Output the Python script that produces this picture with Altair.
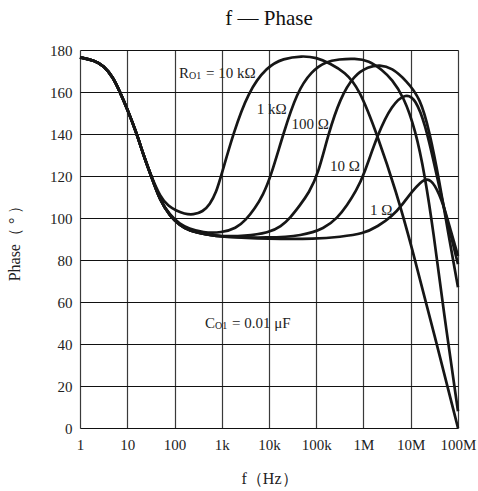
import json
import altair as alt
import pandas as pd

# ---------------- data ----------------
# shared low-frequency part (all five curves coincide)
common_f = [1, 2, 3.2, 5, 7, 10, 16, 22, 32]
common_p = [176.5, 175, 172.5, 167, 160, 152, 140, 130, 120]

f_10k = [50, 75, 110, 160, 250, 400, 560, 760, 1000, 1740, 3600, 9000, 20000,
         50000, 100000, 200000, 400000, 800000, 2e6, 5e6, 1e7, 3.2e7, 1e8]
p_10k = [110, 105.5, 103.5, 102, 101.5, 103, 106.5, 112, 121, 140, 160, 172, 176,
         177.2, 176.5, 173.5, 169.5, 162, 139, 112, 88, 44, 0]

f_1k = [50, 80, 130, 200, 400, 1000, 2000, 3200, 5000, 7500, 11000, 20000, 39000,
        80000, 160000, 300000, 660000, 1.3e6, 2.5e6, 4e6, 7e6, 1.26e7, 2e7,
        3e7, 5e7, 1e8]
p_1k = [108, 101.5, 97, 95, 93, 93, 95, 99, 104.5, 111, 120, 140, 160,
        170, 174.5, 175.6, 176, 175, 170.5, 166, 158, 142, 120,
        94, 55, 8]

f_100 = [50, 80, 130, 200, 500, 1000, 3000, 10000, 18000, 28000, 45000, 70000,
         110000, 180000, 320000, 630000, 1.26e6, 2.2e6, 4e6, 8e6, 1.6e7, 2.5e7,
         4e7, 6.3e7, 1e8]
p_100 = [108, 101, 96.5, 94, 92, 91.3, 91.3, 93, 96, 100, 106, 112,
         121, 140, 157, 168, 172, 173, 171.5, 165.5, 157, 141,
         118, 92, 67]

f_10 = [50, 80, 130, 200, 500, 1000, 10000, 50000, 150000, 280000, 450000,
        700000, 1e6, 2e6, 4e6, 8e6, 1.26e7, 2e7, 3.2e7, 5e7, 1e8]
p_10 = [108, 101, 96.5, 94, 92, 91, 90.5, 91.5, 95, 100, 106,
        113, 120, 140, 154, 159.5, 156.5, 145, 125, 105, 78]

f_1 = [50, 80, 130, 200, 500, 1000, 10000, 100000, 316000, 1e6, 2e6, 4e6, 7e6,
       1.05e7, 1.6e7, 2.2e7, 3.2e7, 5e7, 7e7, 1e8]
p_1 = [108, 101, 96.5, 94, 92, 91, 90, 90, 91, 92.5, 96, 100.6, 107,
       112.5, 117, 119, 116.5, 106, 94, 82]

curve_names = ["10 kΩ", "1 kΩ", "100 Ω", "10 Ω", "1 Ω"]
curve_f = [f_10k, f_1k, f_100, f_10, f_1]
curve_p = [p_10k, p_1k, p_100, p_10, p_1]

tick_values = [1, 10, 100, 1000, 10000, 100000, 1000000, 10000000, 100000000]
tick_labels = ["1", "10", "100", "1k", "10k", "100k", "1M", "10M", "100M"]
y_ticks = [0, 20, 40, 60, 80, 100, 120, 140, 160, 180]

label_text = ["1 kΩ", "100 Ω", "10 Ω", "1 Ω"]
label_f = [5480, 30100, 195000, 1370000]
label_p = [152, 145, 125, 104]

sub_main = ["R", "C"]
sub_index = ["O1", "O1"]
sub_rest = ["= 10 kΩ", "= 0.01 μF"]
sub_f = [124.5, 442]
sub_p = [169, 50]

# ---------------- build tables ----------------
rows = []
for name, fs, ps in zip(curve_names, curve_f, curve_p):
    for f, p in zip(common_f + fs, common_p + ps):
        rows.append({"curve": name, "f": f, "phase": p})
df = pd.DataFrame(rows)

lab_df = pd.DataFrame({"f": label_f, "phase": label_p, "text": label_text})
sub_df = pd.DataFrame({"f": sub_f, "phase": sub_p, "main": sub_main,
                       "idx": sub_index, "rest": sub_rest})

FONT = "Liberation Serif"
label_expr = f"{json.dumps(tick_labels)}[indexof({json.dumps(tick_values)}, datum.value)]"

xscale = alt.Scale(type="log", domain=[1, 1e8], nice=False)
yscale = alt.Scale(domain=[0, 180], nice=False, zero=False)

x_enc = alt.X("f:Q", scale=xscale, axis=alt.Axis(
    values=tick_values, labelExpr=label_expr, grid=True, gridColor="#3a3a3a",
    gridWidth=1.2, domain=False, ticks=False, labelFont=FONT, labelFontSize=15,
    labelColor="#222", labelPadding=9, labelFlush=False, labelOverlap=False,
    title="f（Hz）", titleFont=FONT, titleFontSize=16, titleFontWeight="normal",
    titleColor="#222", titleX=189, titleY=50, titleBaseline="middle",
    titleAnchor="middle"))
y_enc = alt.Y("phase:Q", scale=yscale, axis=alt.Axis(
    values=y_ticks, grid=True, gridColor="#111", gridWidth=1.2, domain=False,
    ticks=False, labelFont=FONT, labelFontSize=15, labelColor="#222",
    labelPadding=8, labelFlush=False, labelOverlap=False,
    title="Phase（ ° ）", titleFont=FONT, titleFontSize=16,
    titleFontWeight="normal", titleColor="#222", titleX=-66, titleY=189,
    titleAngle=270, titleBaseline="middle", titleAlign="center"))

lines = alt.Chart(df).mark_line(
    interpolate="basis", strokeWidth=2.7, color="#161616"
).encode(x=x_enc, y=y_enc, detail="curve:N", order="f:Q")

labels = alt.Chart(lab_df).mark_text(
    font=FONT, fontSize=15, align="left", baseline="middle", color="#222"
).encode(x=alt.X("f:Q", scale=xscale), y=alt.Y("phase:Q", scale=yscale), text="text:N")

sub_a = alt.Chart(sub_df).mark_text(
    font=FONT, fontSize=15, align="left", baseline="middle", color="#222"
).encode(x=alt.X("f:Q", scale=xscale), y=alt.Y("phase:Q", scale=yscale), text="main:N")
sub_b = alt.Chart(sub_df).mark_text(
    font=FONT, fontSize=10, align="left", baseline="middle", color="#222", dx=10, dy=3
).encode(x=alt.X("f:Q", scale=xscale), y=alt.Y("phase:Q", scale=yscale), text="idx:N")
sub_c = alt.Chart(sub_df).mark_text(
    font=FONT, fontSize=15, align="left", baseline="middle", color="#222", dx=27
).encode(x=alt.X("f:Q", scale=xscale), y=alt.Y("phase:Q", scale=yscale), text="rest:N")

chart = alt.layer(lines, labels, sub_a, sub_b, sub_c).properties(
    width=378, height=378,
    padding={"left": 80, "top": 50, "right": 20, "bottom": 63},
    autosize=alt.AutoSizeParams(type="none"),
    title=alt.TitleParams("f — Phase", font=FONT, fontSize=21,
                          fontWeight="normal", color="#111", anchor="middle",
                          offset=14),
).configure_view(stroke="#111", strokeWidth=1.6).configure(background="white")

chart.save("out.html", embed_options={"renderer": "svg", "actions": False})
